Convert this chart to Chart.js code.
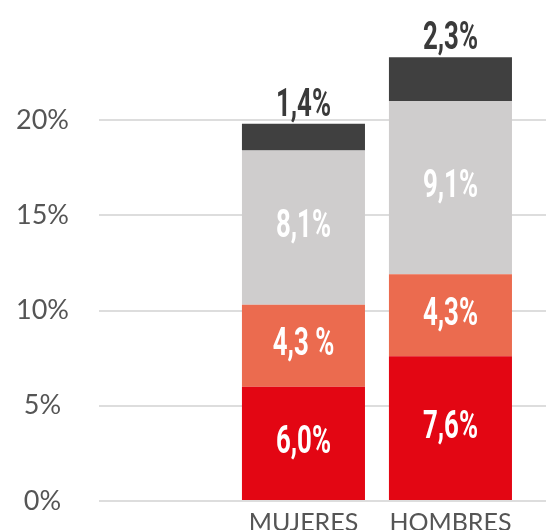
<!DOCTYPE html>
<html lang="es">
<head>
    <meta charset="UTF-8">
    <title>Mujeres / Hombres</title>
    <script src="https://cdn.jsdelivr.net/npm/chart.js"></script>
    <style>
        html, body { margin: 0; padding: 0; background: #fff; }
        .wrap { width: 546px; height: 530px; position: relative; }
    </style>
</head>
<body>
    <div class="wrap"><canvas id="stackChart"></canvas></div>

    <script>
        // values (bottom to top of each bar)
        const categories = ['MUJERES', 'HOMBRES'];
        const series1 = [6.0, 7.6];
        const series2 = [4.3, 4.3];
        const series3 = [8.1, 9.1];
        const series4 = [1.4, 2.3];
        const labels1 = ['6,0%', '7,6%'];
        const labels2 = ['4,3 %', '4,3%'];
        const labels3 = ['8,1%', '9,1%'];
        const labels4 = ['1,4%', '2,3%'];
        const yTicks = [0, 5, 10, 15, 20];

        const colors = ['#e30613', '#eb6b4f', '#cfcdcd', '#404040'];
        const allValues = [series1, series2, series3, series4];
        const allLabels = [labels1, labels2, labels3, labels4];

        const datasets = allValues.map((vals, i) => ({
            data: vals.map((v, k) => ({ x: k + 1, y: v })),
            backgroundColor: colors[i],
            barLabels: allLabels[i],
            categoryPercentage: 1,
            barPercentage: 0.837
        }));

        // numbers inside each segment, the top one sits above the bar
        const valueLabels = {
            id: 'valueLabels',
            afterDatasetsDraw(chart) {
                const ctx = chart.ctx;
                const last = chart.data.datasets.length - 1;
                chart.data.datasets.forEach((ds, i) => {
                    chart.getDatasetMeta(i).data.forEach((bar, j) => {
                        let y;
                        ctx.save();
                        ctx.font = 'bold 38px Roboto, sans-serif';
                        ctx.textAlign = 'center';
                        if (i === last) {
                            ctx.fillStyle = '#3a3a3a';
                            ctx.textBaseline = 'alphabetic';
                            y = bar.y - 8;
                        } else {
                            ctx.fillStyle = '#ffffff';
                            ctx.textBaseline = 'middle';
                            y = (bar.y + bar.base) / 2;
                        }
                        ctx.translate(bar.x, y);
                        ctx.scale(0.68, 1);
                        ctx.fillText(ds.barLabels[j], 0, 0);
                        ctx.restore();
                    });
                });
            }
        };

        new Chart(document.getElementById('stackChart'), {
            type: 'bar',
            data: { datasets },
            options: {
                responsive: true,
                maintainAspectRatio: false,
                animation: false,
                layout: { padding: { left: 13, top: 0, right: 0, bottom: 0 } },
                plugins: {
                    legend: { display: false },
                    tooltip: { enabled: false }
                },
                scales: {
                    x: {
                        type: 'linear',
                        stacked: true,
                        offset: false,
                        min: -0.391,
                        max: 2.65,
                        grid: { display: false },
                        border: { display: false },
                        afterBuildTicks: axis => {
                            axis.ticks = categories.map((c, i) => ({ value: i + 1 }));
                        },
                        afterFit: axis => {
                            axis.height = 29;
                            axis.paddingLeft = 0;
                            axis.paddingRight = 0;
                        },
                        ticks: {
                            autoSkip: false,
                            maxRotation: 0,
                            padding: -1,
                            color: '#555',
                            font: { family: 'Lato', size: 25, weight: 400 },
                            callback: v => categories[v - 1]
                        }
                    },
                    y: {
                        stacked: true,
                        min: 0,
                        max: 26.3,
                        afterBuildTicks: axis => {
                            axis.ticks = yTicks.map(v => ({ value: v }));
                        },
                        afterFit: axis => {
                            axis.width = 86;
                            axis.paddingTop = 0;
                            axis.paddingBottom = 0;
                        },
                        grid: { color: '#dddddd', lineWidth: 2, drawTicks: false },
                        border: { display: false },
                        ticks: {
                            padding: 30,
                            crossAlign: 'center',
                            color: '#555',
                            font: { family: 'Lato', size: 27, weight: 400 },
                            callback: v => v + '%'
                        }
                    }
                }
            },
            plugins: [valueLabels]
        });
    </script>
</body>
</html>
